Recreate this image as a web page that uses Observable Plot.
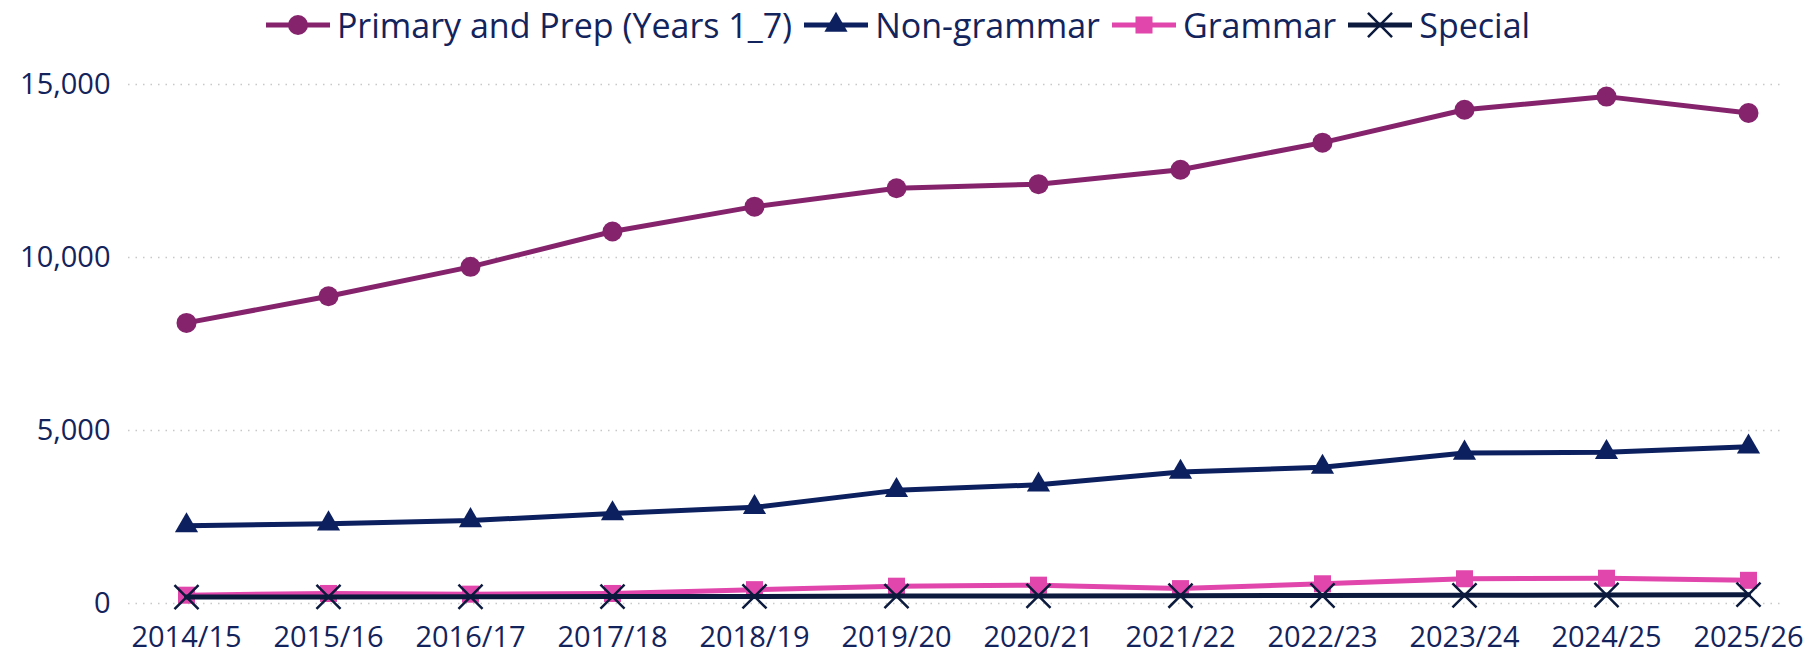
<!DOCTYPE html>
<html>
<head>
<meta charset="utf-8">
<script src="https://cdn.jsdelivr.net/npm/d3@7"></script>
<script src="https://cdn.jsdelivr.net/npm/@observablehq/plot@0.6"></script>
<style>
  html, body { margin: 0; padding: 0; background: #fff; }
  body { width: 1808px; height: 655px; overflow: hidden; font-family: "Open Sans", sans-serif; }
  #legend { height: 50px; display: flex; justify-content: center; align-items: center; color: #13235B; font-size: 34px; }
  .item { display: flex; align-items: center; margin-right: 12px; }
  .item svg { margin-right: 7px; }
  #chart svg { display: block; }
</style>
</head>
<body>
<div id="legend"></div>
<div id="chart"></div>
<script>
const years = ["2014/15","2015/16","2016/17","2017/18","2018/19","2019/20","2020/21","2021/22","2022/23","2023/24","2024/25","2025/26"];
const primary = [8110, 8880, 9730, 10750, 11470, 12000, 12120, 12535, 13320, 14270, 14650, 14175];
const nonGrammar = [2250, 2305, 2400, 2600, 2780, 3270, 3430, 3800, 3940, 4350, 4370, 4530];
const grammar = [240, 290, 270, 290, 400, 500, 530, 430, 570, 715, 730, 670];
const special = [185, 190, 195, 200, 205, 215, 220, 225, 232, 235, 245, 255];
const yTicks = [0, 5000, 10000, 15000];

const seriesNames = ["Primary and Prep (Years 1_7)", "Non-grammar", "Grammar", "Special"];
const seriesValues = [primary, nonGrammar, grammar, special];
const seriesColors = ["#85236C", "#0C1F5E", "#E046AB", "#0B1A3D"];
const seriesSymbols = ["circle", "triangle", "square", "times"];
const seriesR = [10, 8.6, 9.6, 11];

const tables = seriesValues.map((vals, i) => years.map((y, j) => ({year: y, value: vals[j], series: seriesNames[i]})));

// Legend
const legend = document.getElementById("legend");
seriesNames.forEach((name, i) => {
  const item = document.createElement("div");
  item.className = "item";
  const symType = {circle: d3.symbolCircle, triangle: d3.symbolTriangle, square: d3.symbolSquare, times: d3.symbolTimes}[seriesSymbols[i]];
  const size = Math.PI * seriesR[i] * seriesR[i];
  const path = d3.symbol(symType, size)();
  const isStroke = seriesSymbols[i] === "times";
  item.innerHTML = `<svg width="64" height="30" viewBox="0 0 64 30">
    <line x1="0" x2="64" y1="15" y2="15" stroke="${seriesColors[i]}" stroke-width="5"/>
    <path transform="translate(32,15)" d="${path}" fill="${isStroke ? 'none' : seriesColors[i]}" stroke="${isStroke ? seriesColors[i] : 'none'}" stroke-width="2.5"/>
  </svg><span>${name}</span>`;
  legend.appendChild(item);
});

const marks = [
  Plot.ruleY(yTicks, {stroke: "#c8c8c8", strokeWidth: 1.5, strokeDasharray: "1.5,6"})
];
tables.forEach((t, i) => {
  marks.push(Plot.line(t, {x: "year", y: "value", stroke: seriesColors[i], strokeWidth: 5}));
  const sym = seriesSymbols[i];
  if (sym === "times") {
    marks.push(Plot.dot(t, {x: "year", y: "value", symbol: sym, r: seriesR[i], stroke: seriesColors[i], strokeWidth: 2.5, fill: "none"}));
  } else {
    marks.push(Plot.dot(t, {x: "year", y: "value", symbol: sym, r: seriesR[i], fill: seriesColors[i], stroke: "none"}));
  }
});

const chart = Plot.plot({
  width: 1808,
  height: 605,
  marginTop: 34,
  marginBottom: 52,
  marginLeft: 128,
  marginRight: 24,
  style: {fontSize: "29px", fontFamily: "Open Sans, sans-serif", color: "#13235B", background: "#fff"},
  x: {type: "point", domain: years, padding: 0, insetLeft: 58, insetRight: 36, tickSize: 0, tickPadding: 23, label: null},
  y: {domain: [0, 15000], ticks: yTicks, tickFormat: d3.format(","), tickSize: 0, tickPadding: 18, label: null},
  marks
});
document.getElementById("chart").appendChild(chart);
</script>
</body>
</html>
